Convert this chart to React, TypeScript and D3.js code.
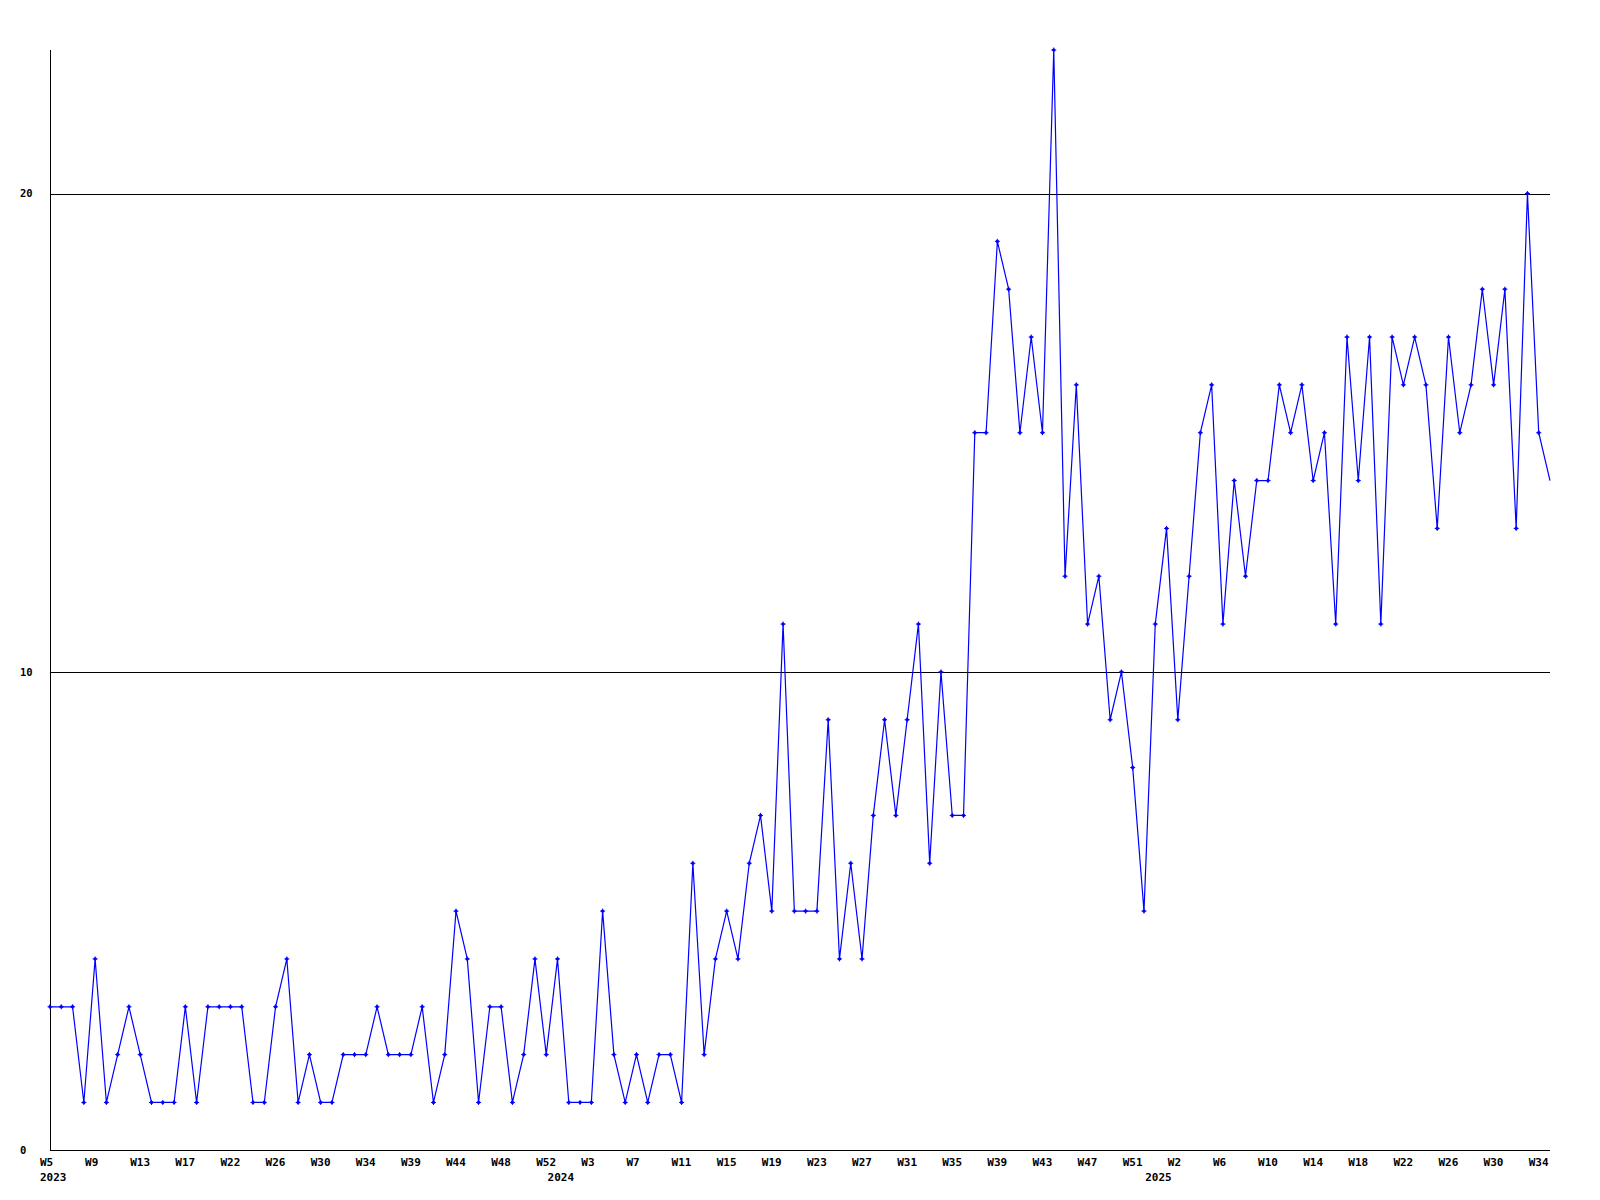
import React from "react";
import * as d3 from "d3";

const values: number[] = [
  3, 3, 3, 1, 4, 1, 2, 3, 2, 1, 1, 1, 3, 1, 3, 3, 3, 3, 1, 1,
  3, 4, 1, 2, 1, 1, 2, 2, 2, 3, 2, 2, 2, 3, 1, 2, 5, 4, 1, 3,
  3, 1, 2, 4, 2, 4, 1, 1, 1, 5, 2, 1, 2, 1, 2, 2, 1, 6, 2, 4,
  5, 4, 6, 7, 5, 11, 5, 5, 5, 9, 4, 6, 4, 7, 9, 7, 9, 11, 6, 10,
  7, 7, 15, 15, 19, 18, 15, 17, 15, 23, 12, 16, 11, 12, 9, 10, 8, 5, 11, 13,
  9, 12, 15, 16, 11, 14, 12, 14, 14, 16, 15, 16, 14, 15, 11, 17, 14, 17, 11, 17,
  16, 17, 16, 13, 17, 15, 16, 18, 16, 18, 13, 20, 15, 14,
];

const weekLabels: string[] = [
  "W5", "W9", "W13", "W17", "W22", "W26", "W30", "W34", "W39", "W44", "W48", "W52",
  "W3", "W7", "W11", "W15", "W19", "W23", "W27", "W31", "W35", "W39", "W43", "W47", "W51",
  "W2", "W6", "W10", "W14", "W18", "W22", "W26", "W30", "W34",
];
const weekLabelStep = 4;

const yearLabels: string[] = ["2023", "2024", "2025"];
const yearLabelIndex: number[] = [0, 45, 98];

const yTicks: number[] = [0, 10, 20];
const yMax = 23;

const LEFT = 50;
const RIGHT = 1550;
const TOP = 50;
const BOTTOM = 1150.3;
const FONT = "'DejaVu Sans Mono', 'Liberation Mono', monospace";

export default function App() {
  const x = d3.scaleLinear().domain([0, values.length - 1]).range([LEFT, RIGHT]);
  const y = d3.scaleLinear().domain([0, yMax]).range([BOTTOM, TOP]);
  const line = d3
    .line<number>()
    .x((_, i) => x(i))
    .y((d) => y(d));

  const marker = "M-2.5,0H2.5M0,-2.5V2.5M-1,-1H1V1H-1Z";

  return (
    <svg
      width={1600}
      height={1200}
      style={{ position: "absolute", left: 0, top: 0, background: "#fff" }}
    >
      <rect x={0} y={0} width={1600} height={1200} fill="#fff" />
      {yTicks
        .filter((t) => t > 0)
        .map((t) => (
          <line
            key={"g" + t}
            x1={LEFT}
            x2={RIGHT}
            y1={Math.round(y(t)) + 0.5}
            y2={Math.round(y(t)) + 0.5}
            stroke="#000"
            strokeWidth={1}
            shapeRendering="crispEdges"
          />
        ))}
      <line x1={LEFT + 0.5} x2={LEFT + 0.5} y1={TOP} y2={Math.round(BOTTOM) + 0.5} stroke="#000" shapeRendering="crispEdges" />
      <line x1={LEFT} x2={RIGHT} y1={Math.round(BOTTOM) + 0.5} y2={Math.round(BOTTOM) + 0.5} stroke="#000" shapeRendering="crispEdges" />
      {yTicks.map((t) => (
        <text
          key={"yt" + t}
          x={20}
          y={y(t)}
          dy="0.36em"
          fontFamily={FONT}
          fontWeight="bold"
          fontSize={10.5}
          fill="#000"
        >
          {t}
        </text>
      ))}
      {weekLabels.map((lab, k) => (
        <text
          key={"w" + k}
          x={x(k * weekLabelStep) - 10}
          y={1166}
          fontFamily={FONT}
          fontWeight="bold"
          fontSize={11}
          fill="#000"
        >
          {lab}
        </text>
      ))}
      {yearLabels.map((lab, k) => (
        <text
          key={"yr" + k}
          x={x(yearLabelIndex[k]) - 10}
          y={1181}
          fontFamily={FONT}
          fontWeight="bold"
          fontSize={11}
          fill="#000"
        >
          {lab}
        </text>
      ))}
      <path d={line(values) || ""} fill="none" stroke="#0000ff" strokeWidth={1.2} />
      {values.slice(0, values.length - 1).map((v, i) => (
        <path
          key={"m" + i}
          d={marker}
          transform={`translate(${x(i)},${y(v)})`}
          fill="#0000ff"
          stroke="#0000ff"
          strokeWidth={1}
        />
      ))}
    </svg>
  );
}
